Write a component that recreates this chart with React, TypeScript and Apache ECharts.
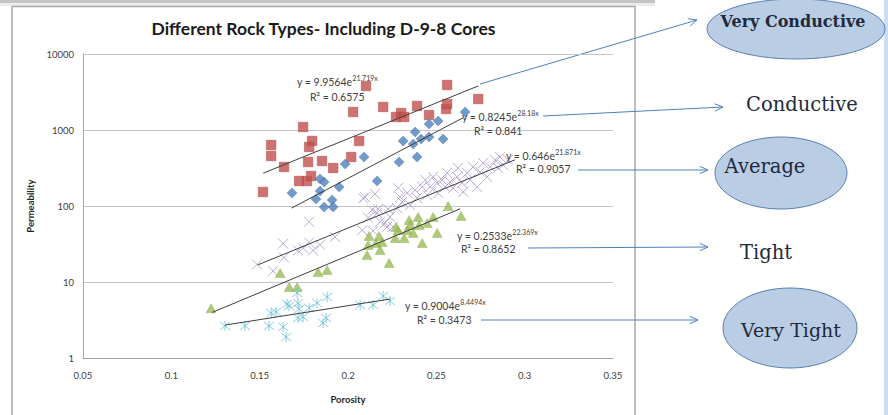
import { useEffect, useRef } from 'react';
import * as echarts from 'echarts';

// Porosity (fraction) vs permeability (mD) for each rock class
const veryConductive: [number, number][] = [
  [0.1519, 153], [0.1565, 635], [0.1565, 455], [0.1638, 326], [0.1746, 1095],
  [0.1797, 717], [0.178, 598], [0.1774, 379], [0.1723, 213], [0.1768, 213],
  [0.1791, 248], [0.1853, 391], [0.1916, 316], [0.2018, 441], [0.2063, 717],
  [0.2029, 1725], [0.2102, 3793], [0.2199, 2009], [0.2272, 1483], [0.2301, 1674],
  [0.2318, 1483], [0.2391, 2070], [0.2459, 1575], [0.2555, 1890], [0.2561, 2198],
  [0.2561, 3910], [0.2737, 2559],
];

const conductive: [number, number][] = [
  [0.1683, 148], [0.1819, 124], [0.1842, 157], [0.1842, 227], [0.1865, 207],
  [0.1865, 97], [0.191, 120], [0.1916, 97], [0.195, 178], [0.1984, 357],
  [0.2091, 441], [0.2165, 213], [0.2289, 379], [0.2312, 717], [0.2369, 654],
  [0.238, 942], [0.2391, 441], [0.2414, 762], [0.2459, 809], [0.2459, 1199],
  [0.251, 1313], [0.2538, 762], [0.2663, 1725],
];

const average: [number, number][] = [
  [0.1485, 17], [0.1576, 14], [0.1633, 32], [0.1638, 21], [0.1717, 26],
  [0.1746, 28], [0.178, 62], [0.178, 33], [0.1802, 26], [0.1842, 31],
  [0.1927, 39], [0.208, 48], [0.2086, 127], [0.2097, 131], [0.2114, 70],
  [0.2137, 89], [0.2142, 47], [0.2153, 144], [0.2165, 81], [0.217, 91],
  [0.2182, 62], [0.221, 60], [0.2221, 53], [0.2227, 91], [0.2238, 72],
  [0.2255, 53], [0.2278, 94], [0.2284, 173], [0.2295, 131], [0.2306, 113],
  [0.2335, 148], [0.2352, 103], [0.238, 162], [0.2391, 127], [0.242, 178],
  [0.2437, 220], [0.2448, 140], [0.2465, 178], [0.2482, 241], [0.2505, 201],
  [0.251, 148], [0.2533, 220], [0.255, 178], [0.2561, 272], [0.2578, 207],
  [0.2595, 173], [0.2618, 241], [0.2623, 316], [0.2646, 201], [0.2652, 153],
  [0.2674, 272], [0.2691, 220], [0.2708, 326], [0.2731, 178], [0.2748, 280],
  [0.2765, 368], [0.2788, 241], [0.2805, 326], [0.2833, 403], [0.285, 316],
  [0.2861, 441], [0.2878, 346], [0.2907, 403],
];

const tight: [number, number][] = [
  [0.1225, 4.5], [0.1616, 13.1], [0.1667, 8.6], [0.1712, 8.6], [0.1831, 13.5],
  [0.1882, 14.4], [0.2108, 22.7], [0.2119, 40.3], [0.2159, 32.6], [0.2176, 40.3],
  [0.2193, 33.6], [0.2182, 26.4], [0.2233, 17.8], [0.2114, 30.7], [0.2272, 52.9],
  [0.2284, 48.3], [0.2267, 37.9], [0.2318, 37.9], [0.2346, 65.4], [0.2352, 56.2],
  [0.2335, 48.3], [0.2397, 71.7], [0.2403, 56.2], [0.2369, 44.2], [0.242, 32.6],
  [0.2448, 59.7], [0.2482, 71.7], [0.2505, 44.2], [0.2567, 100], [0.264, 73.9],
];

const veryTight: [number, number][] = [
  [0.1304, 2.64], [0.1417, 2.64], [0.1553, 2.64], [0.1565, 3.91], [0.1593, 4.03],
  [0.1633, 2.56], [0.165, 1.89], [0.1655, 5.14], [0.1666, 4.83], [0.1712, 7.17],
  [0.1717, 5.29], [0.1723, 4.41], [0.1717, 3.36], [0.1746, 3.46], [0.178, 4.55],
  [0.1825, 5.29], [0.1859, 2.89], [0.1876, 3.36], [0.1882, 6.35], [0.2069, 4.98],
  [0.2142, 4.98], [0.2199, 6.54], [0.2238, 5.62],
];

// Exponential fits y = a·e^(b·x), one per rock class, and the porosity span of each line
const rockClasses = ['Very Conductive', 'Conductive', 'Average', 'Tight', 'Very Tight'];
const fitA = [9.9564, 0.8245, 0.646, 0.2533, 0.9004];
const fitB = [21.719, 28.18, 21.871, 22.369, 8.4494];
const fitR2 = ['0.6575', '0.841', '0.9057', '0.8652', '0.3473'];
const fitFrom = [0.152, 0.168, 0.149, 0.123, 0.1304];
const fitTo = [0.2737, 0.265, 0.2946, 0.2635, 0.2238];

const xMin = 0.05;
const xMax = 0.35;
const xStep = 0.05;
const yMin = 1;
const yMax = 10000;

const FONT = 'Lato, "Noto Sans", sans-serif';
const SERIF = '"DejaVu Serif", "Liberation Serif", serif';
const ARROW = '#4f81bd';
const INK = '#1f2a3a';

// where each fit's equation sits: [x, y] of the "y = …" line and of the "R² = …" line
const eqPlace: [number, number, number, number][] = [
  [297, 82, 310, 97],
  [462, 117, 474, 131],
  [506, 156, 516, 169],
  [457, 236, 461, 249],
  [405, 306, 417, 320],
];

// callout arrows from each equation to its class name
const arrowPlace: [number, number, number, number][] = [
  [480, 84, 697, 20],
  [543, 116, 723, 107],
  [578, 170, 708, 170],
  [528, 248, 708, 247],
  [481, 320, 698, 320],
];

function arrow(x1: number, y1: number, x2: number, y2: number) {
  const ang = Math.atan2(y2 - y1, x2 - x1);
  const L = 9;
  const s = 0.42;
  const p1 = [x2 - L * Math.cos(ang - s), y2 - L * Math.sin(ang - s)];
  const p2 = [x2 - L * Math.cos(ang + s), y2 - L * Math.sin(ang + s)];
  return [
    { type: 'line', shape: { x1, y1, x2, y2 }, style: { stroke: ARROW, lineWidth: 1 } },
    {
      type: 'polyline',
      shape: { points: [p1, [x2, y2], p2] },
      style: { stroke: ARROW, lineWidth: 1, fill: null },
    },
  ];
}

function fitLine(i: number): [number, number][] {
  const a = fitA[i];
  const b = fitB[i];
  return [
    [fitFrom[i], a * Math.exp(b * fitFrom[i])],
    [fitTo[i], a * Math.exp(b * fitTo[i])],
  ];
}

export default function App() {
  const ref = useRef<HTMLDivElement>(null);

  useEffect(() => {
    if (!ref.current) return;
    const chart = echarts.init(ref.current, null, { renderer: 'svg' });

    const markerSets = [veryConductive, conductive, average, tight, veryTight];
    const markerStyle: any[] = [
      { symbol: 'rect', symbolSize: 9.5, itemStyle: { color: '#c0504d', borderColor: '#b04441', borderWidth: 0.6 } },
      { symbol: 'diamond', symbolSize: 10, itemStyle: { color: '#4f81bd', borderColor: '#4474b0', borderWidth: 0.5 } },
      {
        symbol: 'path://M0,0L10,10M10,0L0,10',
        symbolSize: 10,
        itemStyle: { color: '#a996cf', borderColor: '#a996cf', borderWidth: 1 },
      },
      { symbol: 'triangle', symbolSize: [10, 9], itemStyle: { color: '#9bbb59', borderColor: '#8fb04d', borderWidth: 0.5 } },
      {
        symbol: 'path://M1,1L9,9M9,1L1,9M5,0L5,10',
        symbolSize: 10,
        itemStyle: { color: '#6cc0d8', borderColor: '#6cc0d8', borderWidth: 1 },
      },
    ];

    const scatterSeries = markerSets.map((d, i) => ({
      type: 'scatter',
      name: rockClasses[i],
      data: d,
      silent: true,
      z: 2,
      ...markerStyle[i],
    }));

    const lineSeries = rockClasses.map((name, i) => ({
      type: 'line',
      name: name + ' fit',
      data: fitLine(i),
      showSymbol: false,
      silent: true,
      z: 4,
      lineStyle: { color: '#3f3f3f', width: 1 },
    }));

    const graphics: any[] = [
      // window chrome around the chart
      { type: 'rect', shape: { x: 0, y: 0, width: 655, height: 3 }, style: { fill: '#c4c4c4' } },
      { type: 'rect', shape: { x: 0, y: 3, width: 655, height: 3 }, style: { fill: '#ececec' } },
      { type: 'rect', shape: { x: 884, y: 0, width: 4, height: 415 }, style: { fill: '#c9ddf5' } },
      {
        type: 'rect',
        shape: { x: 12, y: 6.5, width: 623, height: 430 },
        style: { fill: null, stroke: '#a9a9a9', lineWidth: 1.5 },
      },
      {
        type: 'text',
        x: 323.5,
        y: 28,
        style: {
          text: 'Different Rock Types- Including D-9-8 Cores',
          align: 'center',
          verticalAlign: 'middle',
          fontFamily: FONT,
          fontSize: 17.5,
          fontWeight: 'bold',
          fill: '#1a1a1a',
        },
      },
    ];

    eqPlace.forEach(([ex, ey, rx, ry], i) => {
      graphics.push({
        type: 'text',
        x: ex,
        y: ey,
        z: 10,
        style: {
          text: `{b|y = ${fitA[i]}e}{s|${fitB[i]}x}`,
          align: 'left',
          verticalAlign: 'middle',
          rich: {
            b: { fontFamily: FONT, fontSize: 10.5, fill: '#404040' },
            s: { fontFamily: FONT, fontSize: 7, fill: '#404040', padding: [0, 0, 9, 0] },
          },
        },
      });
      graphics.push({
        type: 'text',
        x: rx,
        y: ry,
        z: 10,
        style: {
          text: `R² = ${fitR2[i]}`,
          align: 'left',
          verticalAlign: 'middle',
          fontFamily: FONT,
          fontSize: 10.5,
          fill: '#404040',
        },
      });
    });

    arrowPlace.forEach(([x1, y1, x2, y2]) => graphics.push(...arrow(x1, y1, x2, y2)));

    // class names, three of them inside shaded ellipses
    const ellipse = (cx: number, cy: number, rx: number, ry: number) => ({
      type: 'ellipse',
      shape: { cx, cy, rx, ry },
      style: { fill: '#b9cde5', stroke: '#5a7fb0', lineWidth: 1 },
    });
    const label = (text: string, x: number, y: number, size: number, bold = false) => ({
      type: 'text',
      x,
      y,
      z: 5,
      style: {
        text,
        align: 'center',
        verticalAlign: 'middle',
        fontFamily: SERIF,
        fontSize: size,
        fontWeight: bold ? 'bold' : 'normal',
        fill: INK,
      },
    });
    graphics.push(
      ellipse(796, 29, 89, 30),
      label(rockClasses[0], 793, 21, 16, true),
      label(rockClasses[1], 802, 104, 19.5),
      ellipse(781, 173, 66, 36),
      label(rockClasses[2], 765, 166, 19.5),
      label(rockClasses[3], 766, 252, 19.5),
      ellipse(790, 328, 67, 40),
      label(rockClasses[4], 791, 330, 19),
    );

    chart.setOption({
      animation: false,
      backgroundColor: '#ffffff',
      grid: { left: 83, top: 54, width: 530, height: 304, containLabel: false },
      xAxis: {
        type: 'value',
        min: xMin,
        max: xMax,
        interval: xStep,
        axisLine: { show: true, lineStyle: { color: '#a6a6a6', width: 1 } },
        axisTick: { show: false },
        splitLine: { show: false },
        axisLabel: {
          formatter: (v: number) => String(Math.round(v * 100) / 100),
          color: '#404040',
          fontFamily: FONT,
          fontSize: 9.5,
          margin: 12,
        },
        name: 'Porosity',
        nameLocation: 'middle',
        nameGap: 36,
        nameTextStyle: { fontFamily: FONT, fontSize: 9.5, fontWeight: 'bold', color: '#262626' },
      },
      yAxis: {
        type: 'log',
        logBase: 10,
        min: yMin,
        max: yMax,
        axisLine: { show: true, lineStyle: { color: '#a6a6a6', width: 1 } },
        axisTick: { show: false },
        splitLine: { show: true, lineStyle: { color: '#c6c6c6', width: 1 } },
        axisLabel: {
          formatter: (v: number) => String(Math.round(v)),
          color: '#404040',
          fontFamily: FONT,
          fontSize: 9.5,
          margin: 9,
        },
        name: 'Permeability',
        nameLocation: 'middle',
        nameGap: 45,
        nameRotate: 90,
        nameTextStyle: { fontFamily: FONT, fontSize: 9.5, fontWeight: 'bold', color: '#262626' },
      },
      series: [...scatterSeries, ...lineSeries],
      graphic: { elements: graphics },
    });

    return () => chart.dispose();
  }, []);

  return (
    <div
      ref={ref}
      style={{ position: 'absolute', left: 0, top: 0, width: 888, height: 415, background: '#fff' }}
    />
  );
}
